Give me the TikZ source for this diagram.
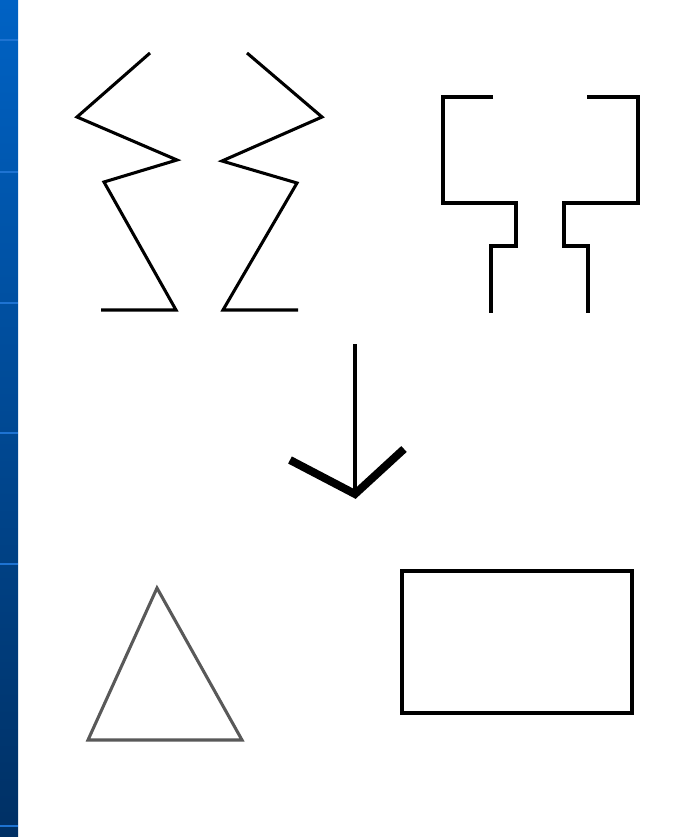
\documentclass[tikz,border=0pt]{standalone}
\begin{document}
\begin{tikzpicture}[x=0.75pt,y=-0.75pt,
  stroke/.style={line width=2.3pt,black},
  barline/.style={line width=1.2pt,color=barl}]
\definecolor{bartop}{RGB}{0,98,196}
\definecolor{barbot}{RGB}{0,48,100}
\definecolor{barl}{RGB}{30,115,210}
\useasboundingbox (0,0) rectangle (672,837);
\fill[white] (0,0) rectangle (672,837);
\shade[top color=bartop,bottom color=barbot] (0,0) rectangle (18,837);
\foreach \yy in {40,172,303,433,564,826} \draw[barline] (0,\yy) -- (18,\yy);
% zigzag figure
\draw[stroke,line join=miter] (150,53) -- (77,117) -- (177,160) -- (104,182) -- (176,310) -- (101,310);
\draw[stroke,line join=miter] (247,53) -- (322,117) -- (222,161) -- (297,183) -- (223,310) -- (298,310);
% square figure
\draw[stroke,line join=miter] (493,97) -- (443,97) -- (443,203) -- (516,203) -- (516,246) -- (491,246) -- (491,313);
\draw[stroke,line join=miter] (587,97) -- (638,97) -- (638,203) -- (564,203) -- (564,246) -- (588,246) -- (588,313);
% arrow
\draw[stroke] (355,344) -- (355,490);
\draw[line width=6pt,line join=miter] (290,460) -- (355,494) -- (404,449);
% triangle
\draw[line width=2.3pt,color=black!65,line join=miter] (157,588) -- (242,740) -- (88,740) -- cycle;
% rectangle
\draw[line width=3pt,black] (402,571) rectangle (632,713);
\end{tikzpicture}
\end{document}
